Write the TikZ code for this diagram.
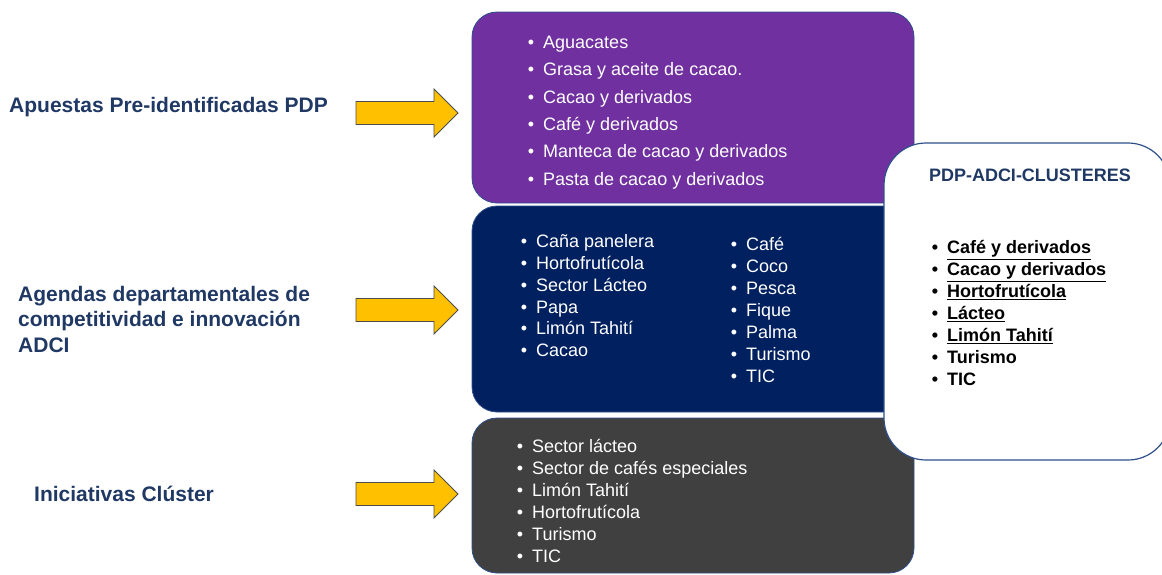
\documentclass[tikz,border=0pt]{standalone}
\usepackage{fontspec}
\setmainfont{Liberation Sans}
\usetikzlibrary{positioning}
\definecolor{lila}{HTML}{7030A0}
\definecolor{marino}{HTML}{002060}
\definecolor{grisoscuro}{HTML}{404040}
\definecolor{amarillo}{HTML}{FFC000}
\definecolor{borde}{HTML}{2F4F8A}
\definecolor{azultxt}{HTML}{203864}

\tikzset{
  flecha/.pic={\draw[fill=amarillo, draw=gray!60!black, line width=0.8pt]
    (0,-11.5) -- (78,-11.5) -- (78,-24) -- (102,0) -- (78,24) -- (78,11.5) -- (0,11.5) -- cycle;}
}

\begin{document}
\begin{tikzpicture}[x=1pt, y=-1pt,
  caja/.style={rounded corners=25pt, draw=borde, line width=0.8pt},
  item/.style={anchor=mid west, inner sep=0pt, font=\fontsize{18}{22}\selectfont,
    execute at begin node={\llap{\textbullet\hspace{9pt}}}},
  etiqueta/.style={anchor=west, inner sep=0pt, align=left, text=azultxt,
    font=\fontsize{21}{25.5}\selectfont\bfseries}]
  \useasboundingbox (0,0) rectangle (1162,574);
  \clip (0,0) rectangle (1162,574);

  % cajas
  \draw[caja, fill=lila] (472,12) rectangle (914,203);
  \draw[caja, fill=marino] (472,206) rectangle (914,412);
  \draw[caja, fill=grisoscuro] (472,418) rectangle (914,573);
  \draw[rounded corners=42pt, draw=borde, line width=1.2pt, fill=white] (884,143) rectangle (1170,460);

  % etiquetas
  \node[etiqueta] (pdp) at (9,107) {Apuestas Pre-identificadas PDP};
  \node[etiqueta] (adci) at (18,319) {Agendas departamentales de\\competitividad e innovación\\ADCI};
  \node[etiqueta] (cluster) at (34,494) {Iniciativas Clúster};

  \pic at (356,113) {flecha};
  \pic at (356,310) {flecha};
  \pic at (356,494) {flecha};

  % listas
  \foreach \t [count=\i] in {Aguacates, Grasa y aceite de cacao., Cacao y derivados,
      Café y derivados, Manteca de cacao y derivados, Pasta de cacao y derivados}
    \node[item, text=white] (apuesta\i) at ({543},{18.7+27.3*\i}) {\t};
  \foreach \t [count=\i] in {Caña panelera, Hortofrutícola, Sector Lácteo, Papa, Limón Tahití, Cacao}
    \node[item, text=white] (agendaA\i) at ({536},{223.2+21.8*\i}) {\t};
  \foreach \t [count=\i] in {Café, Coco, Pesca, Fique, Palma, Turismo, TIC}
    \node[item, text=white] (agendaB\i) at ({746},{226+22*\i}) {\t};
  \foreach \t [count=\i] in {Sector lácteo, Sector de cafés especiales, Limón Tahití,
      Hortofrutícola, Turismo, TIC}
    \node[item, text=white] (iniciativa\i) at ({532},{428+22*\i}) {\t};

  \node[inner sep=0pt, text=azultxt, font=\fontsize{18}{22}\selectfont\bfseries] (titulo) at (1030,175) {PDP-ADCI-CLUSTERES};
  \foreach \t [count=\i] in {\underline{Café y derivados}, \underline{Cacao y derivados},
      \underline{Hortofrutícola}, \underline{Lácteo}, \underline{Limón Tahití}, Turismo, TIC}
    \node[item, font=\fontsize{18}{22}\selectfont\bfseries] (comun\i) at ({947},{229+22*\i}) {\t};
\end{tikzpicture}
\end{document}
